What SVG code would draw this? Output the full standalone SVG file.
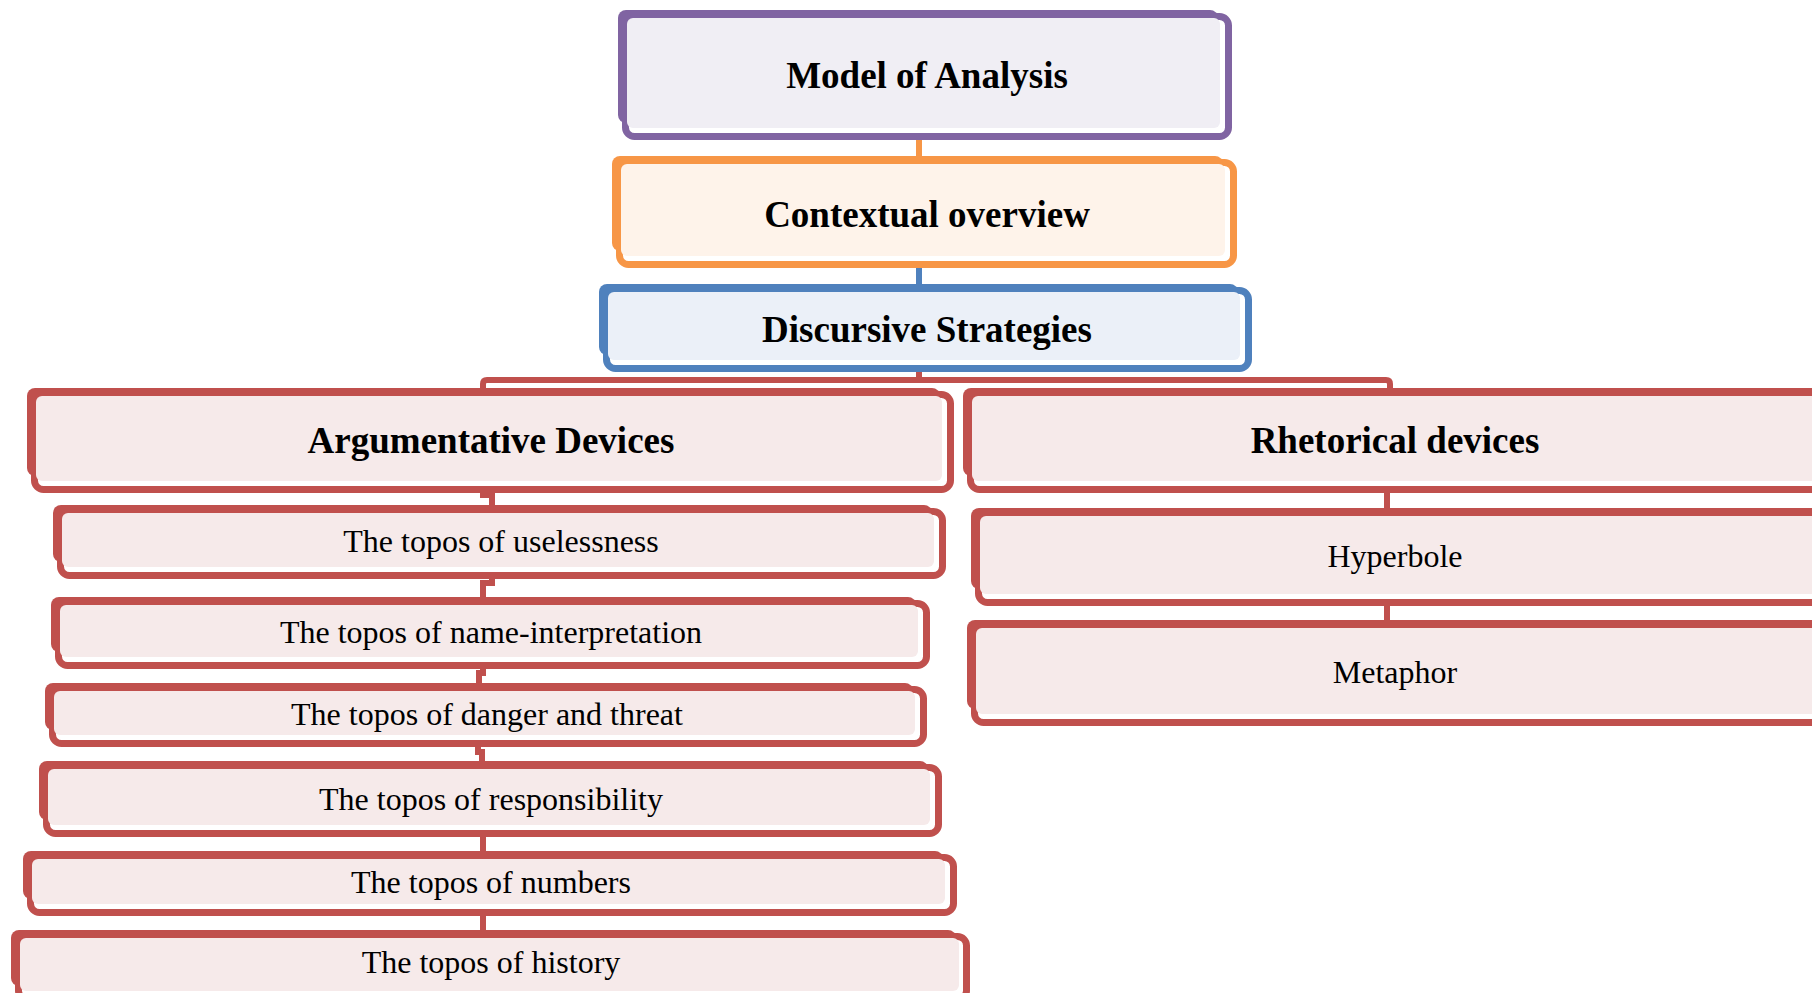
<svg xmlns="http://www.w3.org/2000/svg" width="1812" height="993" viewBox="0 0 1812 993">
<style>
.b{stroke-width:7;fill:#ffffff}
.pu .b{stroke:#8064A2}.pu .a{fill:#8064A2}.pu .c{fill:#F0EEF4}
.or .b{stroke:#F79646}.or .a{fill:#F79646}.or .c{fill:#FEF3EA}
.bl .b{stroke:#4F81BD}.bl .a{fill:#4F81BD}.bl .c{fill:#EBF0F8}
.rd .b{stroke:#C0504D}.rd .a{fill:#C0504D}.rd .c{fill:#F6EAEA}
.h{font-family:"Liberation Serif","Times New Roman",serif;font-weight:bold;font-size:37px;fill:#000;text-anchor:middle}
.t{font-family:"Liberation Serif","Times New Roman",serif;font-size:32px;fill:#000;text-anchor:middle}
.cn{fill:none;stroke-width:6;stroke:#C0504D}
</style>
<rect width="1812" height="993" fill="#ffffff"/>
<g id="connectors">
<path class="cn" d="M919,140 V158" style="stroke:#F79646"/>
<path class="cn" d="M919,266 V286" style="stroke:#4F81BD"/>
<path class="cn" d="M919,370 V380"/>
<path class="cn" d="M483,395 V384 Q483,380 487,380 H1386 Q1390,380 1390,384 V395"/>
<path class="cn" d="M483,488 V495 H492 V508"/>
<path class="cn" d="M492,574 V583 H483 V600"/>
<path class="cn" d="M483,664 V673 H479 V688"/>
<path class="cn" d="M478,742 V752 H482 V765"/>
<path class="cn" d="M483,832 V856"/>
<path class="cn" d="M483,910 V935"/>
<path class="cn" d="M1387,488 V512"/>
<path class="cn" d="M1387,600 V624"/>
</g>
<g id="model" class="pu">
<rect class="b" x="625.5" y="16.5" width="603" height="120" rx="9"/>
<rect class="a" x="618" y="10" width="600" height="113" rx="8"/>
<rect class="c" x="627" y="18" width="593" height="110" rx="6"/>
<text class="h" x="927" y="88">Model of Analysis</text>
</g>
<g id="contextual" class="or">
<rect class="b" x="619.5" y="162.5" width="614" height="102" rx="9"/>
<rect class="a" x="612" y="156" width="611" height="95" rx="8"/>
<rect class="c" x="621" y="164" width="604" height="92" rx="6"/>
<text class="h" x="927" y="227">Contextual overview</text>
</g>
<g id="discursive" class="bl">
<rect class="b" x="606.5" y="290.5" width="642" height="78" rx="9"/>
<rect class="a" x="599" y="284" width="639" height="71" rx="8"/>
<rect class="c" x="608" y="292" width="632" height="68" rx="6"/>
<text class="h" x="927" y="342">Discursive Strategies</text>
</g>
<g id="argumentative" class="rd">
<rect class="b" x="34.5" y="394.5" width="916" height="95" rx="9"/>
<rect class="a" x="27" y="388" width="913" height="88" rx="8"/>
<rect class="c" x="36" y="396" width="906" height="85" rx="6"/>
<text class="h" x="491" y="453">Argumentative Devices</text>
</g>
<g id="rhetorical" class="rd">
<rect class="b" x="970.5" y="394.5" width="866" height="95" rx="9"/>
<rect class="a" x="963" y="388" width="863" height="88" rx="8"/>
<rect class="c" x="972" y="396" width="856" height="85" rx="6"/>
<text class="h" x="1395" y="453">Rhetorical devices</text>
</g>
<g id="topos1" class="rd">
<rect class="b" x="60.5" y="511.5" width="882" height="64" rx="9"/>
<rect class="a" x="53" y="505" width="879" height="57" rx="8"/>
<rect class="c" x="62" y="513" width="872" height="54" rx="6"/>
<text class="t" x="501" y="552">The topos of uselessness</text>
</g>
<g id="topos2" class="rd">
<rect class="b" x="58.5" y="603.5" width="868" height="62" rx="9"/>
<rect class="a" x="51" y="597" width="865" height="55" rx="8"/>
<rect class="c" x="60" y="605" width="858" height="52" rx="6"/>
<text class="t" x="491" y="643">The topos of name-interpretation</text>
</g>
<g id="topos3" class="rd">
<rect class="b" x="52.5" y="689.5" width="871" height="54" rx="9"/>
<rect class="a" x="45" y="683" width="868" height="47" rx="8"/>
<rect class="c" x="54" y="691" width="861" height="44" rx="6"/>
<text class="t" x="487" y="725">The topos of danger and threat</text>
</g>
<g id="topos4" class="rd">
<rect class="b" x="46.5" y="767.5" width="892" height="66" rx="9"/>
<rect class="a" x="39" y="761" width="889" height="59" rx="8"/>
<rect class="c" x="48" y="769" width="882" height="56" rx="6"/>
<text class="t" x="491" y="810">The topos of responsibility</text>
</g>
<g id="topos5" class="rd">
<rect class="b" x="30.5" y="857.5" width="923" height="55" rx="9"/>
<rect class="a" x="23" y="851" width="920" height="48" rx="8"/>
<rect class="c" x="32" y="859" width="913" height="45" rx="6"/>
<text class="t" x="491" y="893">The topos of numbers</text>
</g>
<g id="topos6" class="rd">
<rect class="b" x="18.5" y="936.5" width="948" height="63" rx="9"/>
<rect class="a" x="11" y="930" width="945" height="56" rx="8"/>
<rect class="c" x="20" y="938" width="939" height="53" rx="6"/>
<text class="t" x="491" y="973">The topos of history</text>
</g>
<g id="hyperbole" class="rd">
<rect class="b" x="978.5" y="514.5" width="858" height="88" rx="9"/>
<rect class="a" x="971" y="508" width="855" height="81" rx="8"/>
<rect class="c" x="980" y="516" width="848" height="78" rx="6"/>
<text class="t" x="1395" y="567">Hyperbole</text>
</g>
<g id="metaphor" class="rd">
<rect class="b" x="974.5" y="626.5" width="862" height="96" rx="9"/>
<rect class="a" x="967" y="620" width="859" height="89" rx="8"/>
<rect class="c" x="976" y="628" width="852" height="86" rx="6"/>
<text class="t" x="1395" y="683">Metaphor</text>
</g>
</svg>
